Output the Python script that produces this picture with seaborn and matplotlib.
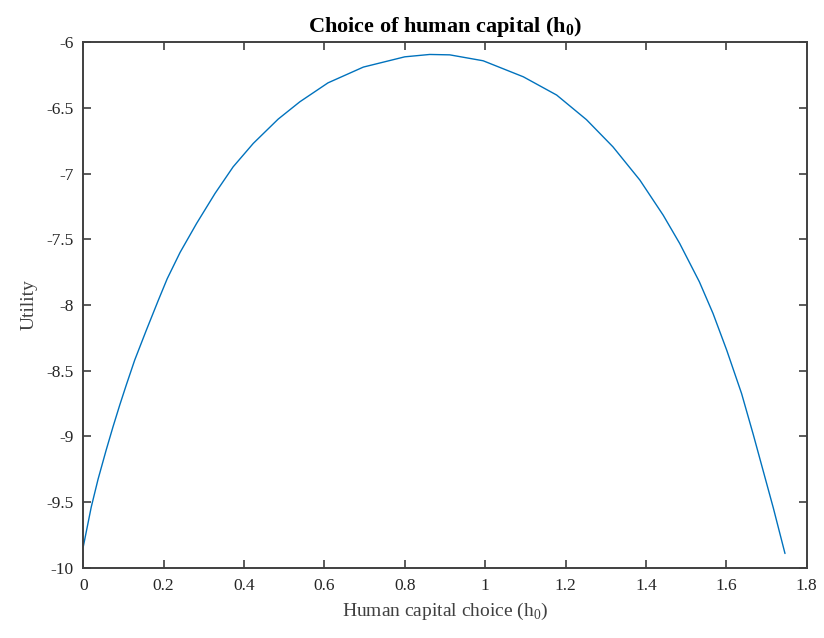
import matplotlib
matplotlib.use("Agg")
import matplotlib.pyplot as plt
import seaborn as sns
import pandas as pd
from matplotlib.ticker import FuncFormatter

# Values
h_choice = [0.000, 0.020, 0.037, 0.057, 0.074, 0.091, 0.107, 0.128, 0.157, 0.187,
            0.209, 0.241, 0.282, 0.328, 0.373, 0.423, 0.485, 0.539, 0.609, 0.697,
            0.800, 0.862, 0.912, 0.995, 1.095, 1.178, 1.252, 1.318, 1.385, 1.443,
            1.484, 1.533, 1.567, 1.601, 1.638, 1.667, 1.692, 1.717, 1.746]
utility = [-9.841, -9.537, -9.325, -9.105, -8.928, -8.760, -8.610, -8.420, -8.192, -7.963,
           -7.800, -7.600, -7.380, -7.151, -6.949, -6.771, -6.586, -6.454, -6.310, -6.190,
           -6.112, -6.094, -6.097, -6.142, -6.264, -6.403, -6.590, -6.797, -7.050, -7.317,
           -7.532, -7.824, -8.065, -8.344, -8.674, -8.985, -9.265, -9.545, -9.891]

x_ticks = [0, 0.2, 0.4, 0.6, 0.8, 1.0, 1.2, 1.4, 1.6, 1.8]
y_ticks = [-10, -9.5, -9, -8.5, -8, -7.5, -7, -6.5, -6]

sns.set_theme(style="white")
plt.rcParams['font.family'] = ['Liberation Serif', 'DejaVu Serif']
plt.rcParams['mathtext.fontset'] = 'custom'
plt.rcParams['mathtext.rm'] = 'Liberation Serif'
plt.rcParams['mathtext.bf'] = 'Liberation Serif:bold'
plt.rcParams['axes.unicode_minus'] = False

df = pd.DataFrame({"h": h_choice, "u": utility})

fig = plt.figure(figsize=(8.24, 6.38), dpi=100)
ax = fig.add_axes([0.101, 0.110, 0.878, 0.824])
sns.lineplot(data=df, x="h", y="u", ax=ax, color="#0072BD", linewidth=1.0)

ax.set_xlim(0, 1.8)
ax.set_ylim(-10, -6)
ax.set_xticks(x_ticks)
ax.set_yticks(y_ticks)
fmt = FuncFormatter(lambda v, p: "%g" % round(v, 3))
ax.xaxis.set_major_formatter(fmt)
ax.yaxis.set_major_formatter(fmt)

for s in ax.spines.values():
    s.set_color("#404040")
    s.set_linewidth(1.4)
ax.tick_params(direction="in", length=6, width=1.2, color="#404040",
               top=True, right=True, bottom=True, left=True,
               labelsize=12.5, labelcolor="#262626", pad=7)

ax.set_xlabel("Human capital choice (h$_0$)", fontsize=14, color="#404040", labelpad=5)
ax.set_ylabel("Utility", fontsize=14, color="#404040", labelpad=6)
ax.set_title(r"Choice of human capital (h$_\mathbf{0}$)", fontsize=16, fontweight="bold",
             color="black", pad=7)

fig.savefig("out.png", dpi=100)
